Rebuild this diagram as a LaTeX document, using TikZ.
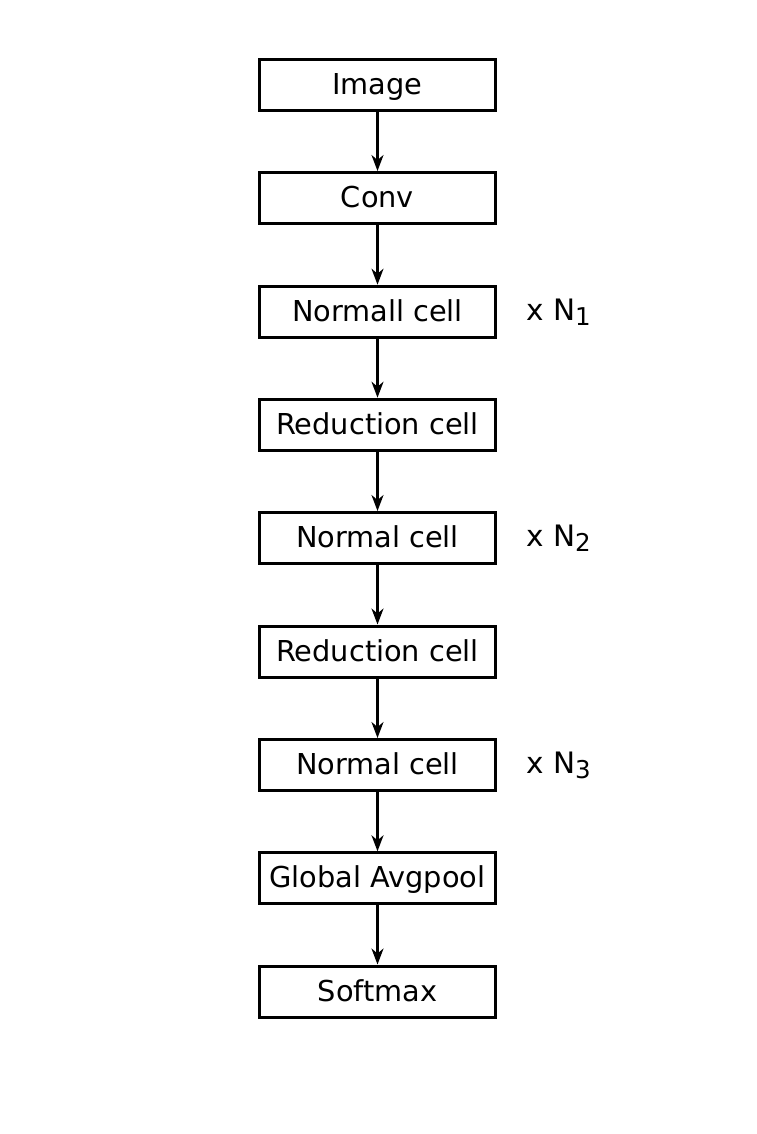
\documentclass[tikz,border=0pt]{standalone}
\usepackage{fontspec}
\setmainfont{DejaVu Sans}
\usetikzlibrary{arrows.meta}
\begin{document}
\begin{tikzpicture}[x=1pt,y=1pt,
  cellbox/.style={draw, line width=3pt, minimum width=236pt, minimum height=51pt,
    inner sep=1pt, font=\fontsize{28.8}{30}\selectfont, text height=21pt, text depth=2pt},
  flow/.style={line width=2.2pt, -{Stealth[length=16pt,width=12pt,inset=5pt]}},
  reps/.style={anchor=base west, inner sep=0pt, font=\fontsize{29.5}{30}\selectfont}]
\useasboundingbox (0,0) rectangle (756,-1134);
\node[cellbox] (img) at (377.5,-84.7) {Image};
\node[cellbox] (conv) at (377.5,-198) {Conv};
\node[cellbox] (n1) at (377.5,-311.7) {Normall cell};
\node[cellbox] (r1) at (377.5,-424.7) {Reduction cell};
\node[cellbox] (n2) at (377.5,-538) {Normal cell};
\node[cellbox] (r2) at (377.5,-651.5) {Reduction cell};
\node[cellbox] (n3) at (377.5,-765) {Normal cell};
\node[cellbox] (gap) at (377.5,-878.3) {Global Avgpool};
\node[cellbox] (sm) at (377.5,-991.5) {Softmax};
\foreach \a/\b in {img/conv,conv/n1,n1/r1,r1/n2,n2/r2,r2/n3,n3/gap,gap/sm}
  \draw[flow] (\a.south) -- (\b.north);
\node[reps] (l1) at ([xshift=29pt,yshift=1pt]n1.base east) {x N\raisebox{-5pt}{\fontsize{24.5}{25}\selectfont 1}};
\node[reps] (l2) at ([xshift=29pt,yshift=1pt]n2.base east) {x N\raisebox{-5pt}{\fontsize{24.5}{25}\selectfont 2}};
\node[reps] (l3) at ([xshift=29pt,yshift=1pt]n3.base east) {x N\raisebox{-5pt}{\fontsize{24.5}{25}\selectfont 3}};
\end{tikzpicture}
\end{document}
